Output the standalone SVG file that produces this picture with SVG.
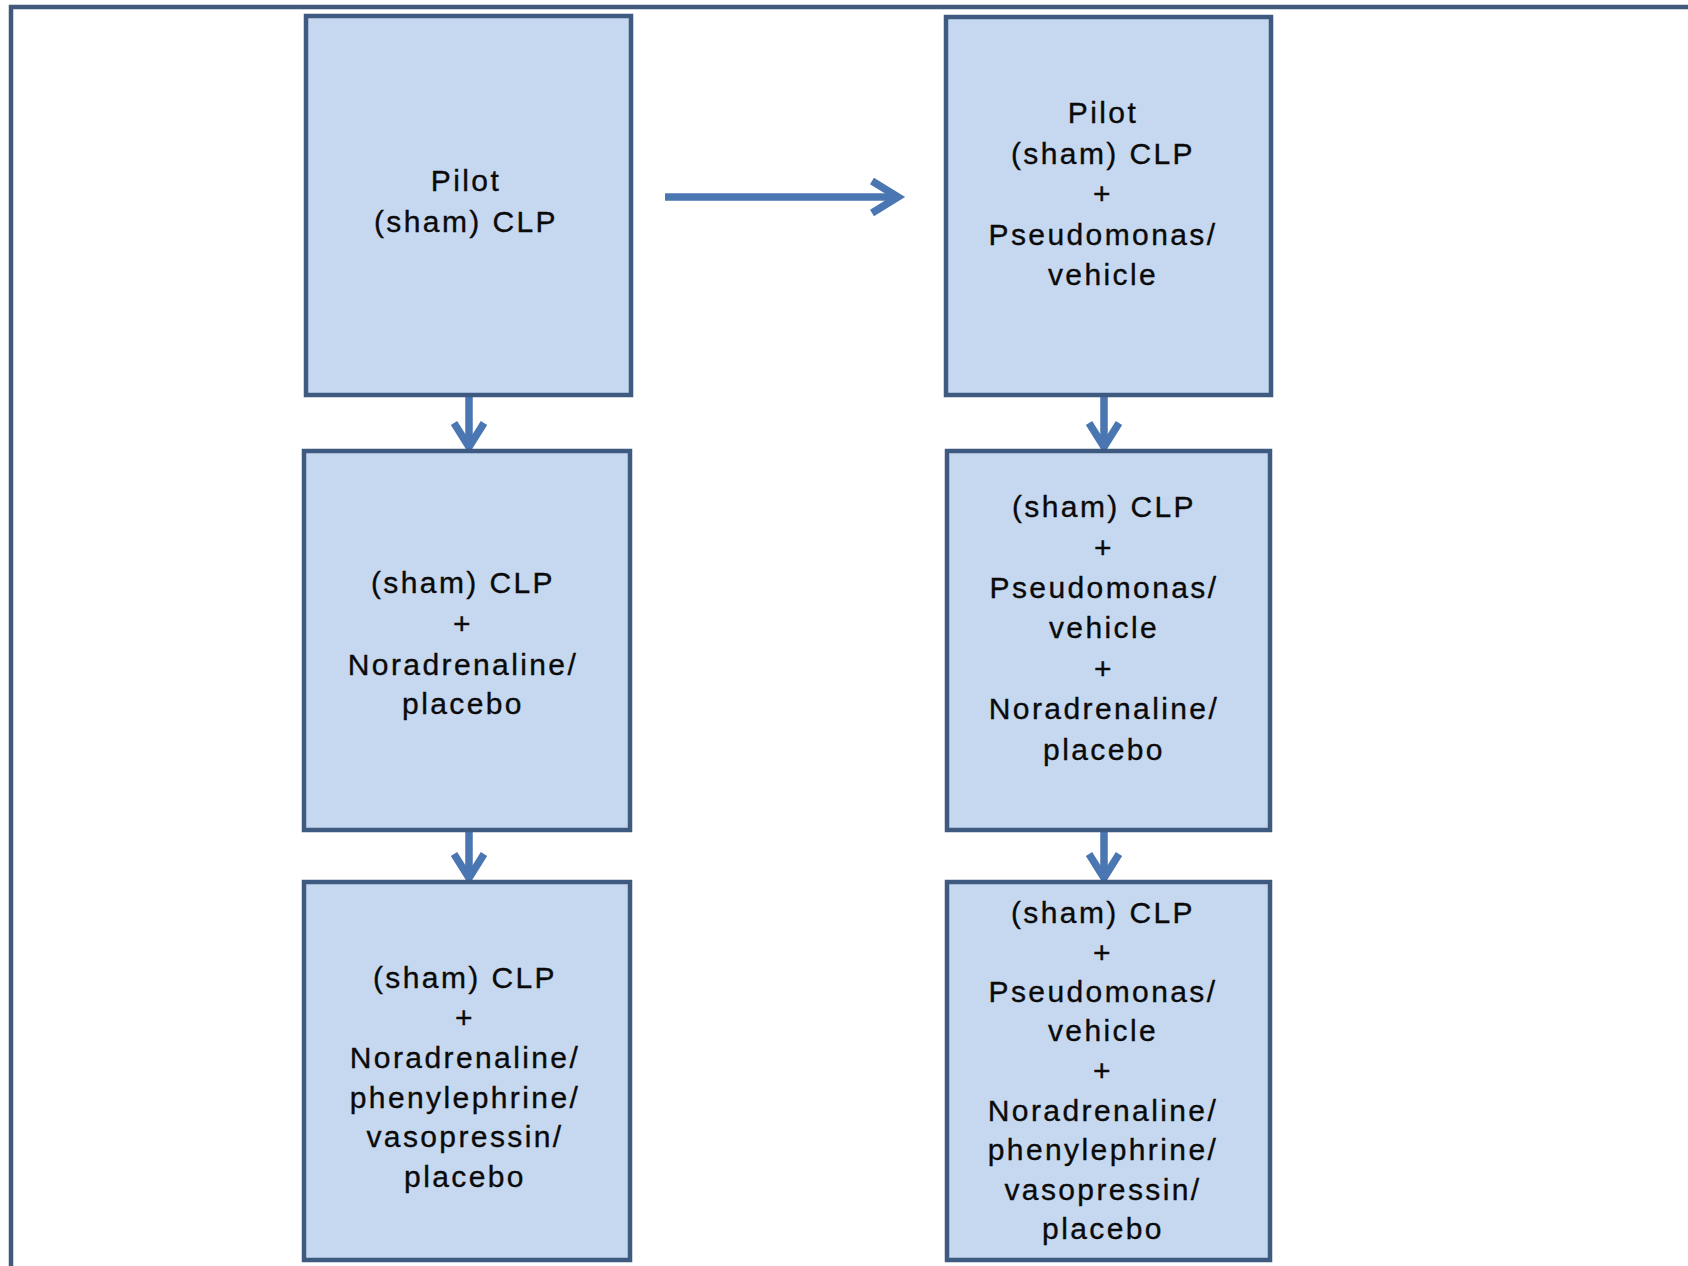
<svg xmlns="http://www.w3.org/2000/svg" width="1688" height="1266" viewBox="0 0 1688 1266">
<defs>
<style>
.frame{fill:none;stroke:#41597b;stroke-width:4.5}
.box{fill:#c6d8ef;stroke:#3f5a80;stroke-width:4.5}
.lbl{font-family:"Liberation Sans",Arial,sans-serif;font-size:30px;letter-spacing:2.4px;fill:#0a0a0a;stroke:#0a0a0a;stroke-width:0.35;text-anchor:middle}
.conn{fill:none;stroke:#4a76b2;stroke-width:7.5;stroke-linecap:butt}
.head{fill:none;stroke:#4a76b2;stroke-width:7.5;stroke-linejoin:miter;stroke-linecap:butt}
</style>
</defs>
<rect width="1688" height="1266" fill="#ffffff"/>
<rect class="frame" x="11" y="7" width="1700" height="1300"/>

<g id="connectors">
  <line class="conn" x1="665" y1="197" x2="896" y2="197"/>
  <polyline class="head" points="872,181 898,197 872,213"/>
  <line class="conn" x1="469" y1="397" x2="469" y2="446"/>
  <polyline class="head" points="454,423 469,447 484,423"/>
  <line class="conn" x1="469" y1="832" x2="469" y2="878"/>
  <polyline class="head" points="454,854 469,878 484,854"/>
  <line class="conn" x1="1104" y1="397" x2="1104" y2="446"/>
  <polyline class="head" points="1089,423 1104,447 1119,423"/>
  <line class="conn" x1="1104" y1="832" x2="1104" y2="878"/>
  <polyline class="head" points="1089,854 1104,878 1119,854"/>
</g>

<g id="node-pilot">
  <rect class="box" x="306" y="16" width="325" height="379"/>
  <text class="lbl" x="466" y="191">Pilot</text>
  <text class="lbl" x="466" y="232">(sham) CLP</text>
</g>

<g id="node-pilot-pseudomonas">
  <rect class="box" x="946" y="17" width="325" height="378"/>
  <text class="lbl" x="1103" y="123">Pilot</text>
  <text class="lbl" x="1103" y="164">(sham) CLP</text>
  <text class="lbl" x="1103" y="204">+</text>
  <text class="lbl" x="1103" y="245">Pseudomonas/</text>
  <text class="lbl" x="1103" y="285">vehicle</text>
</g>

<g id="node-noradrenaline">
  <rect class="box" x="304" y="451" width="326" height="379"/>
  <text class="lbl" x="463" y="593">(sham) CLP</text>
  <text class="lbl" x="463" y="634">+</text>
  <text class="lbl" x="463" y="675">Noradrenaline/</text>
  <text class="lbl" x="463" y="714">placebo</text>
</g>

<g id="node-pseudomonas-noradrenaline">
  <rect class="box" x="947" y="451" width="323" height="379"/>
  <text class="lbl" x="1104" y="517">(sham) CLP</text>
  <text class="lbl" x="1104" y="558">+</text>
  <text class="lbl" x="1104" y="598">Pseudomonas/</text>
  <text class="lbl" x="1104" y="638">vehicle</text>
  <text class="lbl" x="1104" y="679">+</text>
  <text class="lbl" x="1104" y="719">Noradrenaline/</text>
  <text class="lbl" x="1104" y="760">placebo</text>
</g>

<g id="node-vasopressors">
  <rect class="box" x="304" y="882" width="326" height="378"/>
  <text class="lbl" x="465" y="988">(sham) CLP</text>
  <text class="lbl" x="465" y="1028">+</text>
  <text class="lbl" x="465" y="1068">Noradrenaline/</text>
  <text class="lbl" x="465" y="1108">phenylephrine/</text>
  <text class="lbl" x="465" y="1147">vasopressin/</text>
  <text class="lbl" x="465" y="1187">placebo</text>
</g>

<g id="node-pseudomonas-vasopressors">
  <rect class="box" x="947" y="882" width="323" height="378"/>
  <text class="lbl" x="1103" y="923">(sham) CLP</text>
  <text class="lbl" x="1103" y="963">+</text>
  <text class="lbl" x="1103" y="1002">Pseudomonas/</text>
  <text class="lbl" x="1103" y="1041">vehicle</text>
  <text class="lbl" x="1103" y="1081">+</text>
  <text class="lbl" x="1103" y="1121">Noradrenaline/</text>
  <text class="lbl" x="1103" y="1160">phenylephrine/</text>
  <text class="lbl" x="1103" y="1200">vasopressin/</text>
  <text class="lbl" x="1103" y="1239">placebo</text>
</g>
</svg>
